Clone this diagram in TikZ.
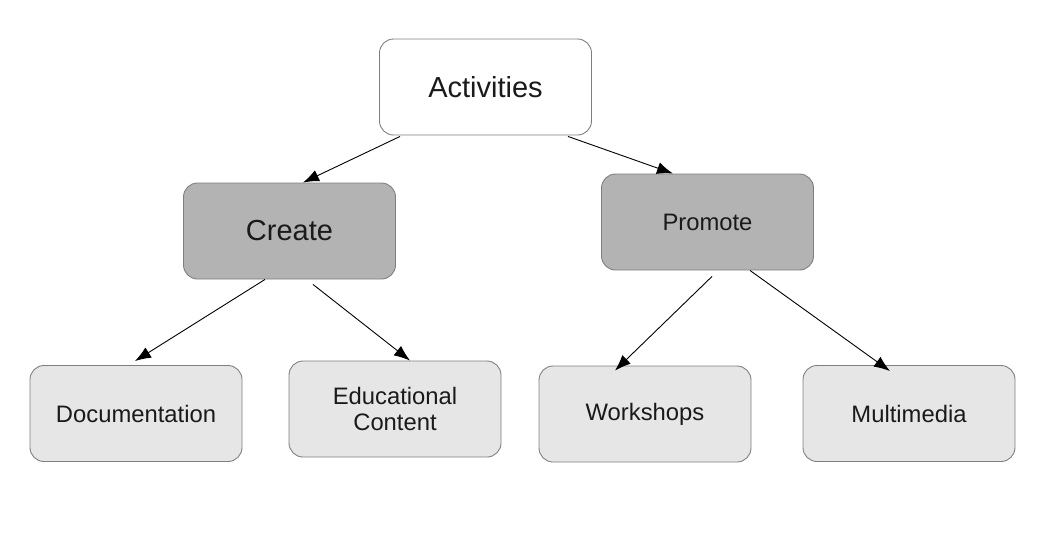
\documentclass[tikz,border=0pt]{standalone}
\usepackage{fontspec}
\setmainfont{Liberation Sans}
\usetikzlibrary{arrows.meta}
\definecolor{boxline}{HTML}{7F7F7F}
\definecolor{midgray}{HTML}{B3B3B3}
\definecolor{lightgray}{HTML}{E6E6E6}
\definecolor{inktext}{HTML}{1A1A1A}
\tikzset{
  BoxStyle/.style = { rectangle, rounded corners = 14pt, draw = boxline,
                      line width = 0.9pt, minimum width = 212pt,
                      minimum height = 96pt, text = inktext,
                      align = center, inner sep = 0pt },
  BigText/.style = { font = \fontsize{29}{32}\selectfont },
  SmallText/.style = { font = \fontsize{23.8}{26}\selectfont },
  EdgeStyle/.style = { -{Latex[length=16pt,width=12pt]}, line width = 0.9pt } }

\begin{document}
\begin{tikzpicture}[x=1pt,y=-1pt]
  \useasboundingbox (0,0) rectangle (1040,557);

  \node[BoxStyle,BigText,fill=white] (act) at (485.5,87) {Activities};

  \node[BoxStyle,BigText,fill=midgray] (create) at (289.5,231) {Create};
  \node[BoxStyle,SmallText,fill=midgray] (promote) at (707.5,222) {Promote};

  \node[BoxStyle,SmallText,fill=lightgray] (doc) at (136,413.5) {Documentation};
  \node[BoxStyle,SmallText,fill=lightgray] (edu) at (395,409) {Educational\\Content};
  \node[BoxStyle,SmallText,fill=lightgray] (work) at (645,414) {Workshops};
  \node[BoxStyle,SmallText,fill=lightgray] (media) at (909,413.5) {Multimedia};

  \draw[EdgeStyle] ([xshift=-85.5pt,yshift=-1pt]act.south) -- ([xshift=13.5pt]create.north);
  \draw[EdgeStyle] ([xshift=82.5pt,yshift=-1pt]act.south) -- ([xshift=-34.5pt]promote.north);

  \draw[EdgeStyle] ([xshift=-24.5pt]create.south) -- ([xshift=-1pt,yshift=4pt]doc.north);
  \draw[EdgeStyle] ([xshift=23.5pt,yshift=-5pt]create.south) -- ([xshift=15pt]edu.north);

  \draw[EdgeStyle] ([xshift=4.5pt,yshift=-6pt]promote.south) -- ([xshift=-30pt,yshift=-5pt]work.north);
  \draw[EdgeStyle] ([xshift=42.5pt]promote.south) -- ([xshift=-19pt,yshift=-6pt]media.north);
\end{tikzpicture}
\end{document}
